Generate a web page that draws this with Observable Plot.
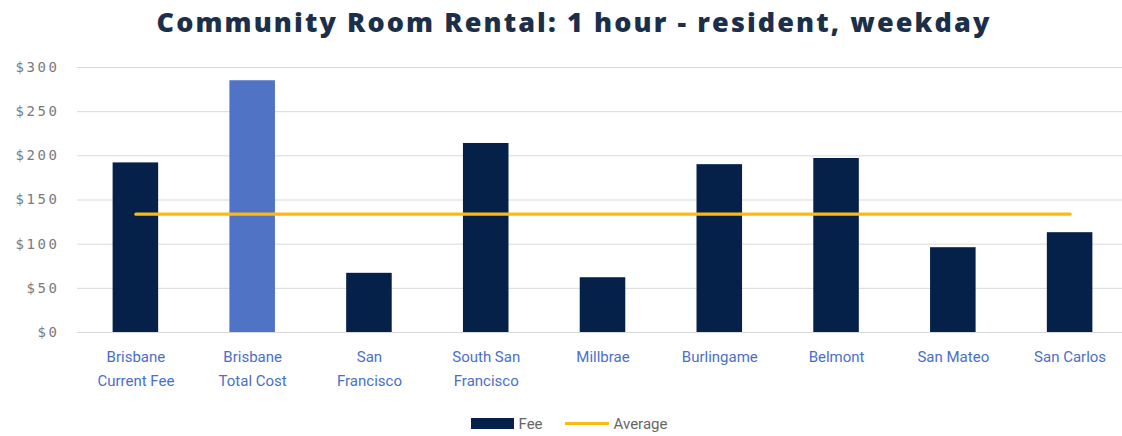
<!DOCTYPE html>
<html>
<head>
<meta charset="utf-8">
<script src="https://cdn.jsdelivr.net/npm/d3@7"></script>
<script src="https://cdn.jsdelivr.net/npm/@observablehq/plot@0.6"></script>
<style>
  body { margin: 0; background: #fff; width: 1122px; height: 436px; overflow: hidden; }
  #title { height: 50px; line-height: 44px; text-align: center; font-family: "Open Sans", sans-serif; font-weight: 800; font-size: 27px; color: #1c2f4a; letter-spacing: 2.1px; padding-left: 26px; box-sizing: border-box; }
  #chart { height: 350px; }
  #legend { height: 36px; padding-top: 11px; display: flex; justify-content: center; align-items: center; font-family: Roboto, sans-serif; font-size: 15px; color: #666; padding-left: 16px; box-sizing: border-box; }
  .sw { display: inline-block; margin-right: 5px; }
  .item { display: flex; align-items: center; margin: 0 11px; }
  .ylab text { letter-spacing: 2.6px; }
</style>
</head>
<body>
<div id="title">Community Room Rental: 1 hour - resident, weekday</div>
<div id="chart"></div>
<div id="legend">
  <span class="item"><span class="sw" style="width:43px;height:11px;background:#05214a"></span>Fee</span>
  <span class="item"><span class="sw" style="width:44px;height:3px;background:#fdb913"></span>Average</span>
</div>
<script>
const categories = ["Brisbane\nCurrent Fee", "Brisbane\nTotal Cost", "San\nFrancisco", "South San\nFrancisco", "Millbrae", "Burlingame", "Belmont", "San Mateo", "San Carlos"];
const fees = [192, 285, 67, 214, 62, 190, 197, 96, 113];
const highlighted = [false, true, false, false, false, false, false, false, false];
const averageFee = 134;
const yTicks = [0, 50, 100, 150, 200, 250, 300];

const rows = categories.map((c, i) => ({cat: c, fee: fees[i], hi: highlighted[i], avg: averageFee}));

const chart = Plot.plot({
  width: 1122,
  height: 350,
  marginLeft: 77,
  marginRight: 0,
  marginTop: 17,
  marginBottom: 68,
  style: {background: "transparent"},
  x: {domain: categories, range: [77, 1128], paddingInner: 0.61, paddingOuter: 0.305, round: false, label: null},
  y: {domain: [0, 300], label: null},
  marks: [
    Plot.ruleY(yTicks, {stroke: "#d9d9d9", strokeWidth: 1}),
    Plot.barY(rows, {x: "cat", y: "fee", fill: d => d.hi ? "#5073c6" : "#05214a"}),
    Plot.lineY(rows, {x: "cat", y: "avg", stroke: "#fdb913", strokeWidth: 3.2}),
    Plot.axisY({ticks: yTicks, tickSize: 0, tickPadding: 18, tickFormat: d => "$" + d, fontFamily: "DejaVu Sans Mono", fontSize: 14, color: "#7a7a7a", label: null, className: "ylab"}),
    Plot.axisX({tickSize: 0, tickPadding: 12, fontFamily: "Roboto", fontSize: 15, color: "#4a6fc8", lineHeight: 1.6, label: null})
  ]
});
document.getElementById("chart").appendChild(chart);
</script>
</body>
</html>
